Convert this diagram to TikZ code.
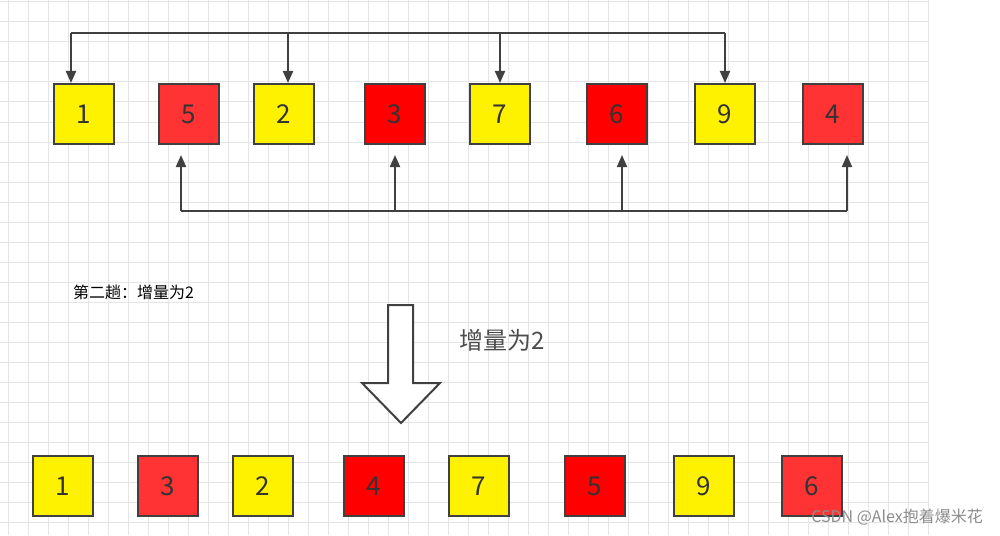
\documentclass[tikz,border=0pt]{standalone}
\usepackage{fontspec}
\setmainfont{Noto Sans CJK SC}
\usetikzlibrary{arrows.meta}

\tikzset{
    num/.style={draw=black!75, line width=1pt, minimum size=30pt, inner sep=0pt, font=\fontsize{13}{13}\selectfont, text=black!80},
    ylw/.style={num, fill=yellow},
    lred/.style={num, fill=red!80},
    dred/.style={num, fill=red},
    link/.style={draw=black!75, line width=1pt, -{Triangle[length=6pt,width=5pt]}}
}

\begin{document}
\begin{tikzpicture}[x=0.5pt, y=-0.5pt]
    \useasboundingbox (0,0) rectangle (1000,535);
    % background grid
    \foreach \gx in {8,28,...,928} \draw[black!10, line width=0.5pt] (\gx,0) -- (\gx,535);
    \foreach \gy in {2,22,...,535} \draw[black!10, line width=0.5pt] (0,\gy) -- (928,\gy);

    % top row
    \node[ylw]  (t1) at (84,114) {1};
    \node[lred] (t2) at (189,114) {5};
    \node[ylw]  (t3) at (284,114) {2};
    \node[dred] (t4) at (395,114) {3};
    \node[ylw]  (t5) at (500,114) {7};
    \node[dred] (t6) at (617,114) {6};
    \node[ylw]  (t7) at (725,114) {9};
    \node[lred] (t8) at (833,114) {4};

    % yellow group
    \coordinate (ya) at (71,33);
    \coordinate (yb) at (288,33);
    \coordinate (yc) at (500,33);
    \coordinate (yd) at (725,33);
    \draw[draw=black!75, line width=1pt] (ya) -- (yd);
    \draw[link] (ya) -- (ya |- t1.north);
    \draw[link] (yb) -- (yb |- t3.north);
    \draw[link] (yc) -- (yc |- t5.north);
    \draw[link] (yd) -- (yd |- t7.north);

    % red group
    \coordinate (ra) at (181,211);
    \coordinate (rb) at (395,211);
    \coordinate (rc) at (622,211);
    \coordinate (rd) at (847,211);
    \draw[draw=black!75, line width=1pt] (ra) -- (rd);
    \draw[link] (ra) -- ([yshift=-5pt]ra |- t2.south);
    \draw[link] (rb) -- ([yshift=-5pt]rb |- t4.south);
    \draw[link] (rc) -- ([yshift=-5pt]rc |- t6.south);
    \draw[link] (rd) -- ([yshift=-5pt]rd |- t8.south);

    \node[font=\fontsize{8}{8}\selectfont, anchor=west] (pass) at (66,292) {第二趟：增量为2};

    % big arrow
    \draw[black!75, line width=1pt, fill=white] (388,305) -- (413,305) -- (413,383) -- (440,383)
        -- (401,423) -- (362,383) -- (388,383) -- cycle;
    \node[font=\fontsize{12}{12}\selectfont, text=black!70, anchor=west] (step) at (452,340) {增量为2};

    % bottom row
    \node[ylw]  (b1) at (63,486) {1};
    \node[lred] (b2) at (168,486) {3};
    \node[ylw]  (b3) at (263,486) {2};
    \node[dred] (b4) at (374,486) {4};
    \node[ylw]  (b5) at (479,486) {7};
    \node[dred] (b6) at (595,486) {5};
    \node[ylw]  (b7) at (704,486) {9};
    \node[lred] (b8) at (812,486) {6};

    \node[font=\fontsize{8}{8}\selectfont, text=black!45, anchor=east] (mark) at (990,517) {CSDN @Alex抱着爆米花};
\end{tikzpicture}
\end{document}
